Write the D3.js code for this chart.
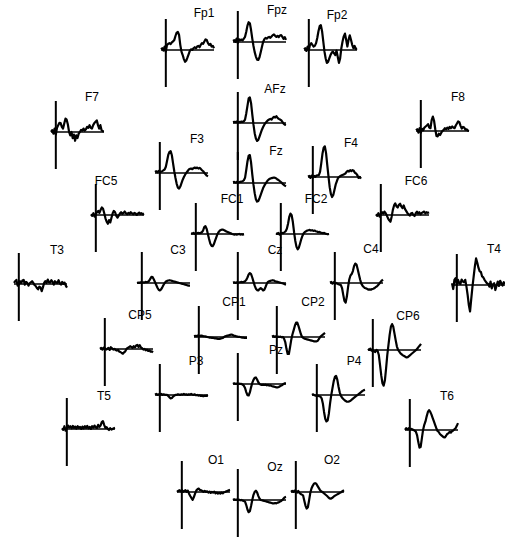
<!doctype html>
<html lang="en">
<head>
  <meta charset="utf-8">
  <title>ERP scalp map</title>
  <script src="https://d3js.org/d3.v7.min.js"></script>
  <style>
  body { margin: 0; background: #fff; }
  .erp { fill: none; stroke: #000; stroke-width: 2.2; stroke-linejoin: round; }
  .label { font-family: "Liberation Sans", Arial, sans-serif; font-size: 12px; fill: #000; }
  </style>
</head>
<body>
<script>
  // time axis (ms), one sample every 25 ms
  var times = [-100,-75,-50,-25,0,25,50,75,100,125,150,175,200,225,250,275,300,325,350,375,
               400,425,450,475,500,525,550,575,600,625,650,675,700,725,750,775,800,825,850,875,
               900,925,950,975,1000];

  // amplitudes (uV-ish units), positive up
  var Fp1 = [0.2,0.5,-0.2,1.0,-0.5,1.5,1.8,2.0,1.7,2.2, 2.5,2.9,4.1,5.1,5.3,4.4,1.5,-0.5,-1.5,-2.7, -3.5,-3.1,-2.2,-1.2,-0.2,0.2,0,0.5,0.8,0.5, 1.0,1.2,0.8,1.5,2.0,1.8,2.5,3.1,2.9,2.0, 1.5,1.8,1.0,1.2,0.5];
  var Fpz = [0.3,0.5,0.0,1.0,-0.3,0.8,0.5,0.7,0.5,1.0, 1.5,3.0,4.8,5.8,5.5,3.5,1.0,-1.2,-3.0,-4.3, -5.2,-5.3,-4.5,-3.0,-1.5,0.0,0.8,1.2,1.0,1.3, 1.5,1.2,1.6,2.0,2.2,1.8,1.5,1.8,1.4,1.9, 2.0,1.5,0.9,1.4,0.6];
  var Fp2 = [0.2,0.5,-0.3,1.0,0.0,1.5,2.0,1.5,1.0,1.2, 2.0,3.5,5.5,7.0,7.3,5.5,2.5,-0.5,-2.5,-3.8, -3.5,-2.5,-1.5,-0.8,-0.5,-1.0,-1.5,-0.2,-2.0,-3.8, -2.5,0.5,2.5,4.0,4.8,3.0,1.0,3.0,4.3,3.0, 1.5,0.5,1.2,0.3,0.5];
  var F7 = [0,0.5,-0.5,1.0,-0.8,1.2,2.0,2.7,2.6,1.5, 1.0,2.5,3.9,3.6,2.2,0.0,-1.0,0.0,-1.8,-0.8, -2.6,-1.0,-1.8,-0.5,0.0,0.6,0.4,1.0,0.4,0.8, 1.5,1.2,2.0,1.2,1.0,2.0,2.6,3.0,3.4,2.0, 1.0,2.0,0.5,0.2,0.2];
  var AFz = [0.2,0.3,0.2,0.4,0.0,0.3,0.2,0.4,0.3,0.5, 1.0,2.8,5.0,7.2,7.5,5.8,2.5,-0.5,-3.0,-4.6, -5.3,-5.0,-4.0,-3.0,-2.0,-1.2,-0.5,0.0,0.4,0.8, 1.0,1.2,1.0,1.5,1.8,1.6,2.0,1.5,1.2,1.0, 0.8,0.3,-0.2,-0.5,-0.6];
  var F8 = [0.2,0.5,-0.5,0.8,-0.5,0.6,0.2,1.0,1.3,1.6, 2.0,1.0,0.8,3.2,4.2,3.0,0.5,-1.5,-1.6,-0.8, -1.2,-0.5,0.0,0.3,0.8,0.5,1.0,0.6,1.2,0.8, 1.3,1.0,0.8,1.6,2.2,2.8,2.6,1.5,0.7,1.2, 1.0,0.4,0.5,0.1,0.0];
  var F3 = [0.3,0.5,0.2,0.6,0.3,0.4,0.5,0.8,1.0,1.8, 3.5,5.3,6.2,6.4,5.2,2.8,0.5,-1.5,-3.2,-4.3, -4.6,-4.0,-3.0,-2.0,-1.2,-0.5,0.0,0.5,1.0,1.2, 1.3,1.1,1.4,1.6,1.4,1.6,1.3,1.5,1.2,0.8, 0.5,0.0,-0.4,-0.8,-1.0];
  var Fz = [0.2,0.3,0.1,0.3,0.0,0.2,0.3,0.4,0.5,0.8, 1.5,3.8,6.3,8.0,8.2,6.0,2.5,-0.5,-3.0,-4.8, -5.5,-5.3,-4.5,-3.5,-2.5,-1.5,-0.8,-0.2,0.3,0.8, 1.1,1.3,1.4,1.5,1.6,1.5,1.3,1.0,0.8,0.5, 0.2,-0.2,-0.5,-0.8,-1.0];
  var F4 = [0.1,0.3,-0.3,0.4,-0.2,0.3,0.0,0.4,0.5,0.5, 1.5,4.0,6.8,8.6,9.0,7.0,3.5,0.2,-3.0,-5.0, -5.9,-5.3,-3.8,-2.2,-1.2,-0.3,0.0,0.3,0.5,0.6, 0.8,1.0,1.5,1.8,1.6,2.0,1.7,2.0,1.8,1.2, 1.0,0.5,-0.3,0.0,-0.5];
  var FC5 = [0.2,-0.3,0.5,-0.5,0.3,0.8,1.2,0.6,1.5,2.2, 1.8,0.5,-1.0,-2.0,-2.6,-1.5,-2.2,-0.8,0.5,1.2, 0.8,-0.3,-0.8,-0.2,0.4,0.8,0.3,0.6,1.0,0.5, 0.2,0.6,0.3,0.8,0.5,0.2,0.6,0.4,0.0,0.4, 0.7,0.3,0.5,0.2,0.4];
  var FC1 = [0.2,0.1,0.3,0.0,0.2,0.2,0.3,0.2,0.3,0.5, 1.0,2.0,2.3,1.5,0.0,-1.5,-2.8,-3.5,-3.6,-3.0, -2.0,-1.0,0.0,0.6,1.0,1.2,1.3,1.2,1.0,0.8, 0.6,0.5,0.3,0.2,0.0,-0.1,-0.2,-0.1,-0.2,-0.1, 0.0,-0.2,-0.1,-0.2,-0.1];
  var FC2 = [0.2,0.0,0.3,-0.2,0.2,0.3,0.2,0.5,0.8,1.5, 3.0,5.0,6.0,5.5,3.5,0.5,-2.0,-3.8,-4.5,-4.0, -2.8,-1.5,-0.5,0.2,0.6,0.8,1.0,1.1,1.2,1.0, 1.1,0.9,1.0,0.8,0.7,0.5,0.6,0.4,0.3,0.2, 0.3,0.1,0.0,-0.1,0.0];
  var FC6 = [0.2,-0.3,0.5,-0.5,0.3,0.8,0.4,1.0,0.5,-0.2, -1.0,-1.6,-2.0,-0.5,1.5,2.8,3.4,2.5,2.2,3.0, 3.3,2.5,2.0,2.8,1.8,1.2,0.6,0.2,-0.2,0.4, 0.6,0.0,-0.3,0.5,1.0,0.4,0.8,0.2,0.6,0.8, 1.0,0.5,0.8,0.6,0.8];
  var T3 = [0.3,0.8,1.2,-0.5,-0.2,0.8,0.3,1.0,1.2,-0.2, 0.6,0.3,-0.5,0.2,0.5,0.8,0.3,-0.3,-0.6,-1.2, -1.6,-0.8,-1.0,-2.1,-1.0,0.3,0.8,0.3,1.3,0.5, 0.4,1.1,0.6,-0.2,0.8,0.4,0.3,1.1,0.2,-0.2, 0.6,0.0,0.4,-0.5,-1.1];
  var C3 = [0,0.1,0,0.2,0,0.2,0.1,0.3,0.2,0.3, 0.6,1.2,1.8,1.7,1.0,0.2,-0.6,-1.4,-2.0,-2.2, -1.9,-1.3,-0.6,0.0,0.4,0.6,0.7,0.8,0.7,0.6, 0.5,0.4,0.3,0.2,0.1,0.0,-0.1,-0.2,-0.3,-0.4, -0.5,-0.6,-0.7,-0.8,-0.8];
  var Cz = [0.1,0.2,0.0,0.2,-0.1,0.2,0.2,0.3,0.2,0.3, 0.5,0.9,1.6,2.5,2.9,2.6,1.6,0.4,-0.8,-1.7, -2.1,-2.2,-1.8,-1.5,-1.8,-2.2,-2.0,-1.2,-0.3,0.3, 0.5,0.6,0.7,0.8,0.7,0.5,0.4,0.3,0.2,0.1, 0.0,-0.1,-0.2,-0.4,-0.5];
  var C4 = [0.1,0.3,-0.2,0.2,-0.3,0.0,-0.2,-0.4,-0.5,-0.6, -1.5,-3.5,-5.3,-5.8,-4.0,-1.2,1.0,2.2,2.6,3.5, 5.0,5.7,5.4,4.0,2.5,1.0,-0.2,-0.8,-1.2,-1.5, -1.6,-1.8,-2.0,-1.9,-2.0,-1.8,-1.7,-1.5,-1.2,-1.0, -0.6,-0.2,0.3,0.7,1.0];
  var T4 = [0.5,-1.2,1.5,2.0,0.0,1.5,0.5,0.3,1.6,1.0, 0.8,1.5,-0.5,-3.0,-6.0,-7.8,-4.0,-0.5,2.5,5.5, 7.8,6.5,5.0,4.0,3.8,2.5,2.2,1.5,1.0,0.5, 0.3,-0.5,1.0,-1.0,0.2,0.5,-1.5,-0.2,1.0,-0.3, 1.2,0.5,-0.2,0.8,0.3];
  var CP1 = [0.2,0.3,0.2,0.4,0.2,0.3,0.4,0.3,0.2,0.2, 0.1,0.0,-0.1,-0.2,-0.2,-0.3,-0.3,-0.4,-0.4,-0.5, -0.6,-0.6,-0.5,-0.4,-0.3,0.0,0.2,0.3,0.4,0.5, 0.6,0.7,0.6,0.4,0.3,0.2,0.1,0.0,0.0,-0.1, -0.2,-0.2,-0.3,-0.3,-0.3];
  var CP2 = [0.1,0.3,0.0,0.2,-0.1,0.1,0.0,0.1,-0.1,0.0, -0.5,-1.5,-3.5,-5.0,-5.0,-3.0,-0.8,0.8,2.0,3.3, 4.2,4.2,3.2,2.0,0.8,0.0,-0.3,-0.5,-0.6,-0.7, -0.8,-0.9,-1.0,-1.1,-1.2,-1.3,-1.3,-1.3,-1.1,-0.6, 0.0,0.3,0.6,0.9,1.2];
  var CP5 = [0.0,0.3,-0.2,0.4,0.2,-0.2,0.0,0.3,-0.3,0.5, 0.2,-0.2,0.0,-0.3,-0.5,-0.3,-0.8,-0.9,-1.2,-1.4, -1.0,-0.7,0.0,0.3,0.5,0.8,0.6,0.3,0.8,0.5, 1.0,1.2,0.6,1.1,0.4,0.2,-0.2,0.0,-0.4,-0.2, -0.6,-0.4,-0.8,-0.7,-1.0];
  var CP6 = [0.3,0.0,0.4,-0.2,0.0,-0.4,-0.6,0.0,-0.3,-1.5, -4.5,-7.5,-9.8,-10.5,-9.0,-5.5,-1.5,1.5,4.5,6.8, 7.6,6.8,4.8,2.8,1.0,0.0,-0.5,-1.0,-1.3,-1.6, -1.8,-2.0,-2.2,-2.1,-1.8,-1.5,-1.2,-0.9,-0.6,-0.3, 0.0,0.4,0.9,1.3,1.8];
  var P3 = [0.1,0.3,0.0,0.2,0.1,0.3,0.0,0.2,0.1,0.0, 0.0,-0.3,-0.7,-1.0,-0.9,-0.5,-0.2,0.0,0.0,0.2, 0.1,0.0,0.2,0.1,0.3,0.1,0.2,0.0,0.2,0.1, 0.3,0.1,0.0,0.2,-0.1,0.0,-0.2,-0.1,-0.3,-0.2, -0.4,-0.3,-0.3,-0.2,-0.3];
  var Pz = [0.0,0.2,0.0,0.1,0.0,0.1,0.0,0.0,-0.2,-0.5, -1.2,-2.4,-3.3,-3.4,-2.5,-1.0,0.3,1.2,1.8,1.9, 1.3,0.5,0.0,-0.2,-0.3,-0.2,-0.3,-0.2,-0.4,-0.3, -0.5,-0.4,-0.6,-0.7,-0.8,-0.9,-1.0,-1.0,-0.9,-0.7, -0.5,-0.3,0.0,0.2,0.2];
  var P4 = [0.0,0.2,-0.1,-0.2,-0.3,-0.2,-0.4,-0.5,-1.0,-2.5, -5.0,-7.0,-7.8,-7.5,-5.5,-2.5,0.0,2.0,4.0,5.3, 5.6,4.5,2.5,0.8,-0.3,-0.8,-1.2,-1.5,-1.8,-2.0, -2.0,-1.9,-1.7,-1.4,-1.1,-0.8,-0.5,-0.2,0.0,0.3, 0.6,0.9,1.2,1.4,1.5];
  var T5 = [0.2,-0.3,0.8,-0.5,0.3,1.0,0.4,0.8,0.2,0.9, 0.3,0.7,0.1,0.8,0.3,0.6,0.0,0.7,0.2,0.8, 0.3,0.9,0.2,0.6,0.0,0.8,0.4,1.0,0.5,0.3, 1.2,0.6,1.0,2.0,2.3,1.2,0.3,0.5,0.0,-0.3, 0.2,-0.2,0.0,0.2,0.3];
  var T6 = [0.0,0.5,0.2,0.5,0.0,0.3,0.2,0.0,-0.2,-0.5, -1.5,-3.5,-5.2,-5.0,-2.5,0.0,1.5,2.5,4.0,5.3, 5.8,5.3,4.5,3.5,2.5,1.5,0.5,-0.3,-0.6,-1.2, -1.5,-1.8,-2.1,-2.2,-1.8,-1.2,-1.0,-0.6,-0.8,-0.4, -0.2,0.2,0.5,1.2,2.0];
  var O1 = [0.0,0.3,0.5,0.2,0.6,0.0,0.3,0.5,0.0,0.4, -0.5,-1.2,-1.8,-2.3,-1.5,-0.5,0.4,0.8,1.0,0.6, 0.5,0.3,0.0,0.3,0.0,0.2,-0.2,0.1,-0.3,0.0, -0.2,0.1,-0.4,-0.2,-0.5,-0.3,-0.5,-0.2,-0.4,-0.1, 0.0,0.2,0.3,0.5,0.6];
  var Oz = [0.0,0.2,0.0,0.1,0.0,0.1,-0.1,0.0,-0.2,-0.3, -0.5,-1.5,-2.8,-3.6,-3.3,-1.8,0.0,1.5,2.4,2.7, 2.2,1.2,0.4,0.0,-0.1,-0.2,-0.3,-0.4,-0.5,-0.6, -0.7,-0.8,-0.9,-1.0,-1.0,-0.9,-1.0,-0.8,-0.7,-0.5, -0.3,0.0,0.4,0.8,0.9];
  var O2 = [0.0,0.3,0.0,0.4,0.2,-0.2,0.3,-0.3,-0.6,-0.8, -1.0,-2.5,-4.0,-4.9,-4.5,-2.5,-0.3,1.0,1.8,2.4, 2.6,2.4,1.8,1.2,0.6,0.2,0.0,-0.3,-0.6,-0.9, -1.2,-1.6,-1.9,-2.0,-1.8,-1.5,-1.2,-1.0,-0.8,-0.6, -0.4,-0.2,0.0,0.3,0.5];

  var waves = {Fp1:Fp1, Fpz:Fpz, Fp2:Fp2, F7:F7, AFz:AFz, F8:F8, F3:F3, Fz:Fz, F4:F4,
               FC5:FC5, FC1:FC1, FC2:FC2, FC6:FC6, T3:T3, C3:C3, Cz:Cz, C4:C4, T4:T4,
               CP1:CP1, CP2:CP2, CP5:CP5, CP6:CP6, P3:P3, Pz:Pz, P4:P4, T5:T5, T6:T6,
               O1:O1, Oz:Oz, O2:O2};

  // page layout: [name, x of time 0, y of zero line, label centre x, label centre y]
  var layout = [
    ["Fp1",166,50,204,13],["Fpz",238,42,277,10],["Fp2",309,50,337,15],
    ["F7",56,132,92,97],["AFz",238,123,275,89],["F8",421,131,458,97],
    ["F3",160,173,197,139],["Fz",238,183,276,151],["F4",313,177,351,143],
    ["FC5",96,215,106,181],["FC1",196,234,232,199],["FC2",281,234,316,199],["FC6",381,215,416,181],
    ["T3",19,284,57,250],["C3",142,283,178,250],["Cz",238,283,275,250],["C4",335,283,371,249],["T4",457,285,494,249],
    ["CP1",199,337,234,302],["CP2",277,337,313,302],["CP5",105,349,140,315],["CP6",373,350,408,316],
    ["P3",160,395,196,361],["Pz",238,384,276,350],["P4",317,395,354,361],
    ["T5",67,429,104,396],["T6",410,430,447,396],
    ["O1",182,492,216,460],["Oz",238,500,275,467],["O2",296,492,332,460]
  ];

  var W = 505, H = 538;
  var yLim = [-10.9, 9.1];

  // same scales for every small plot, relative to its origin
  var x = d3.scaleLinear().domain([times[0], times[times.length-1]]).range([-5, 48]);
  var y = d3.scaleLinear().domain(yLim).range([37, -31]);

  var line = d3.line()
      .x(function(d, i) { return x(times[i]); })
      .y(function(d) { return y(d); });

  var svg = d3.select("body").append("svg")
      .attr("width", W)
      .attr("height", H);

  svg.append("rect").attr("width", W).attr("height", H).attr("fill", "#fff");

  layout.forEach(function(c) {
    var g = svg.append("g")
        .attr("transform", "translate(" + c[1] + "," + c[2] + ")");

    // zero line
    g.append("line")
        .attr("x1", x(times[0])).attr("x2", x(times[times.length-1]))
        .attr("y1", y(0)).attr("y2", y(0))
        .attr("stroke", "#000").attr("stroke-width", 1.6);

    // stimulus onset
    g.append("line")
        .attr("x1", x(0)).attr("x2", x(0))
        .attr("y1", y(yLim[1])).attr("y2", y(yLim[0]))
        .attr("stroke", "#000").attr("stroke-width", 2);

    g.append("path")
        .attr("class", "erp")
        .attr("d", line(waves[c[0]]));

    svg.append("text")
        .attr("class", "label")
        .attr("x", c[3])
        .attr("y", c[4] + 4.3)
        .attr("text-anchor", "middle")
        .text(c[0]);
  });
</script>
</body>
</html>
